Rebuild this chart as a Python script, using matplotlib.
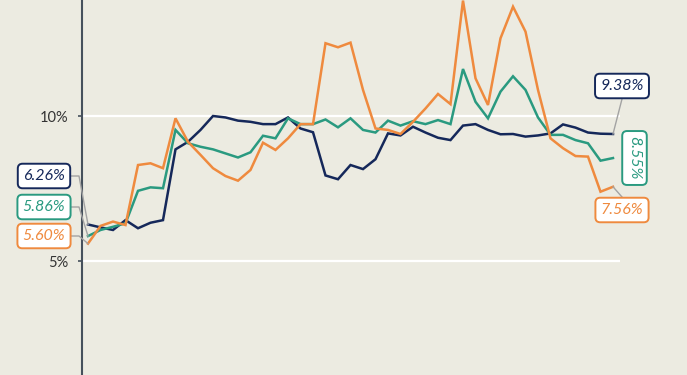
import matplotlib.pyplot as plt
from matplotlib.lines import Line2D

# monthly values (percent), 43 periods
navy = [6.26, 6.16, 6.07, 6.41, 6.13, 6.32, 6.41, 8.85, 9.11, 9.52,
        10.0, 9.95, 9.84, 9.80, 9.72, 9.72, 9.95, 9.57, 9.44, 7.95,
        7.82, 8.31, 8.17, 8.51, 9.40, 9.33, 9.63, 9.43, 9.25, 9.17,
        9.67, 9.72, 9.52, 9.37, 9.38, 9.29, 9.33, 9.40, 9.71, 9.60,
        9.43, 9.39, 9.38]
teal = [5.86, 6.07, 6.18, 6.30, 7.42, 7.54, 7.51, 9.52, 9.06, 8.94,
        8.85, 8.71, 8.57, 8.75, 9.32, 9.23, 9.92, 9.72, 9.72, 9.88,
        9.61, 9.92, 9.52, 9.43, 9.84, 9.67, 9.82, 9.72, 9.86, 9.72,
        11.62, 10.49, 9.92, 10.84, 11.37, 10.90, 9.95, 9.35, 9.35, 9.17,
        9.06, 8.46, 8.55]
orange = [5.60, 6.21, 6.36, 6.24, 8.31, 8.37, 8.20, 9.92, 9.11, 8.66,
          8.20, 7.93, 7.77, 8.14, 9.08, 8.83, 9.23, 9.72, 9.72, 12.51,
          12.37, 12.53, 10.90, 9.57, 9.52, 9.38, 9.80, 10.26, 10.76, 10.41,
          13.98, 11.30, 10.38, 12.68, 13.77, 12.91, 10.90, 9.23, 8.89, 8.62,
          8.60, 7.39, 7.56]

series = [("navy", navy, "#15285a"), ("teal", teal, "#2a9a80"), ("orange", orange, "#ef8a3e")]
yticks = [5, 10]
ytick_labels = ["5%", "10%"]

bg = "#ecebe1"
axis_col = "#46515c"
W, H = 687, 375

fig = plt.figure(figsize=(6.87, 3.75), dpi=100, facecolor=bg)
ax = fig.add_axes([82 / W, 0, (620 - 82) / W, 1], facecolor=bg)

x = list(range(len(navy)))
for name, vals, col in series:
    ax.plot(x, vals, color=col, lw=1.8, zorder=3, solid_joinstyle="miter")

ax.set_xlim(-0.48, 42.56)
ax.set_ylim(1.07, 14.0)

for s in ["top", "right", "bottom"]:
    ax.spines[s].set_visible(False)
ax.spines["left"].set_color(axis_col)
ax.spines["left"].set_linewidth(1.5)
ax.set_xticks([])
ax.set_yticks(yticks)
ax.set_yticklabels(ytick_labels, fontfamily="Lato", fontsize=10.5, color="#333333")
ax.tick_params(axis="y", length=3, width=1.2, color=axis_col, pad=7)
ax.grid(axis="y", color="white", lw=1.6, zorder=1)


def fig_xy(px, py):
    return px / W, 1 - py / H


def data_fig(i, v):
    d = ax.transData.transform((i, v))
    return fig.transFigure.inverted().transform(d)


def label(text, col, cx, cy, rot=0):
    fx, fy = fig_xy(cx, cy)
    fig.text(fx, fy, text, ha="center", va="center", rotation=rot,
             fontfamily="Lato", fontstyle="italic", fontsize=11.5, color=col,
             bbox=dict(boxstyle="round,pad=0.33,rounding_size=0.3", fc="white", ec=col, lw=1.4),
             zorder=5)


def leader(points, end):
    xs = [fig_xy(px, py)[0] for px, py in points] + [end[0]]
    ys = [fig_xy(px, py)[1] for px, py in points] + [end[1]]
    fig.add_artist(Line2D(xs, ys, color="#a3a3a3", lw=1.0, zorder=2))


fig.canvas.draw()

# left-side start labels
left_pos = [176, 207, 236]
for (name, vals, col), cy in zip(series, left_pos):
    leader([(70, cy), (79, cy)], data_fig(0, vals[0]))
    label(f"{vals[0]:.2f}%", col, 44, cy)

# right-side end labels
last = len(navy) - 1
leader([(622, 99)], data_fig(last, navy[-1]))
label(f"{navy[-1]:.2f}%", series[0][2], 622, 86)
label(f"{teal[-1]:.2f}%", series[1][2], 634.5, 158, rot=-90)
leader([(622, 197)], data_fig(last, orange[-1]))
label(f"{orange[-1]:.2f}%", series[2][2], 622, 210)

fig.savefig("out.png", dpi=100, facecolor=bg)
